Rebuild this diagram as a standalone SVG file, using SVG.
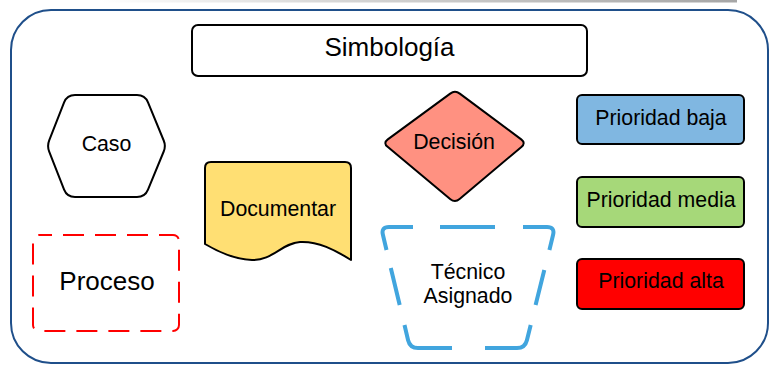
<svg xmlns="http://www.w3.org/2000/svg" width="776" height="365" viewBox="0 0 776 365">
<defs>
<linearGradient id="topline" x1="0" y1="0" x2="1" y2="0">
<stop offset="0" stop-color="#ffffff"/>
<stop offset="0.35" stop-color="#d8d8d8"/>
<stop offset="1" stop-color="#a6a6a6"/>
</linearGradient>
</defs>
<style>
text{font-family:"Liberation Sans",Arial,sans-serif;fill:#000;text-anchor:middle}
.s{stroke:#000;stroke-width:2;stroke-linejoin:round}
.t{font-size:21.3px}
.dash{fill:none;stroke:#41a5de;stroke-width:4;stroke-linecap:butt;stroke-linejoin:round}
</style>
<rect x="100" y="0" width="637" height="2.5" fill="url(#topline)"/>
<rect id="frame" x="11" y="10" width="757" height="353" rx="40" ry="40" fill="#fff" stroke="#1f4f8a" stroke-width="2"/>
<g id="titulo">
<rect class="s" x="192" y="25" width="395" height="51" rx="6" fill="#fff"/>
<text x="389.5" y="56" style="font-size:26px">Simbología</text>
</g>
<g id="caso">
<path class="s" d="M75,95 L137,95 Q145,95 148,102.4 L163.7,140.5 Q166,146 163.7,151.5 L148,189.6 Q145,197 137,197 L75,197 Q67,197 64.1,189.6 L49.2,151.6 Q47,146 49.2,140.4 L64.1,102.4 Q67,95 75,95 Z" fill="#fff"/>
<text class="t" x="106.5" y="151">Caso</text>
</g>
<g id="proceso">
<rect x="33" y="235" width="146" height="96" rx="6" fill="#fff" stroke="#ff0000" stroke-width="2" stroke-dasharray="21 11" stroke-dashoffset="8"/>
<text x="107" y="290" style="font-size:26px">Proceso</text>
</g>
<g id="documentar">
<path class="s" d="M205,168 Q205,162 211,162 L345,162 Q351,162 351,168 L351,260 C335,250 318,241 300,242 C282,243 272,261 252,260 C232,259 215,250 205,244 Z" fill="#ffdf73"/>
<text class="t" x="278" y="216">Documentar</text>
</g>
<g id="decision">
<path class="s" d="M459.8,93.6 L521.2,139.4 Q526,143 521.4,146.9 L459.6,199.1 Q455,203 450.4,199.2 L387.6,146.8 Q383,143 387.8,139.4 L450.2,93.6 Q455,90 459.8,93.6 Z" fill="#ff9181"/>
<text class="t" x="454" y="149">Decisión</text>
</g>
<g id="tecnico">
<path d="M389,227 L547,227 Q555,227 553.1,234.8 L526.9,340.2 Q525,348 517,348 L418,348 Q410,348 408.1,340.2 L382.9,234.8 Q381,227 389,227 Z" fill="#fff"/>
<path class="dash" d="M386.5,250 L382.9,234.8 Q381,227 389,227 L413,227 M440,227 L495,227 M523,227 L547,227 Q555,227 553.1,234.8 L549.4,250 M544.3,270 L535.6,305 M530.7,325 L526.9,340.2 Q525,348 517,348 L485,348 M452,348 L418,348 Q410,348 408.1,340.2 L404.5,325 M399.7,305 L390.8,268"/>
<text class="t" x="468" y="279">Técnico</text>
<text class="t" x="468" y="303">Asignado</text>
</g>
<g id="prioridad-baja">
<rect class="s" x="577" y="95" width="167" height="49" rx="5" fill="#80b7e1"/>
<text class="t" x="661" y="125">Prioridad baja</text>
</g>
<g id="prioridad-media">
<rect class="s" x="577" y="177" width="167" height="50" rx="5" fill="#a6d879"/>
<text class="t" x="661" y="207">Prioridad media</text>
</g>
<g id="prioridad-alta">
<rect class="s" x="577" y="259" width="167" height="50" rx="5" fill="#ff0000"/>
<text class="t" x="661" y="288">Prioridad alta</text>
</g>
<g id="connectors"></g>
</svg>
